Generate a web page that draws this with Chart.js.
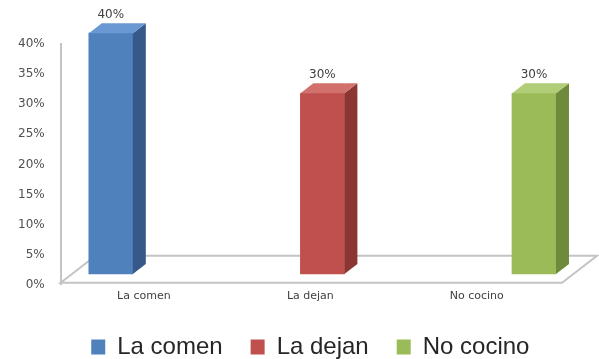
<!DOCTYPE html>
<html>
<head>
<meta charset="utf-8">
<script src="https://cdn.jsdelivr.net/npm/chart.js@4/dist/chart.umd.min.js"></script>
<style>
  html, body { margin: 0; padding: 0; background: #fff; }
</style>
</head>
<body>
<canvas id="chart" width="599" height="359"></canvas>
<script>
// answers: what happens with the food
const categories = ['La comen', 'La dejan', 'No cocino'];
const shares = [0.40, 0.30, 0.30];
const tickStep = 0.05;
const tickMax = 0.40;

// face colours per bar: front, right side, top
const frontColors = ['#4f81bd', '#c0504d', '#9bbb59'];
const sideColors = ['#36598a', '#8c3633', '#6e8a3a'];
const topColors = ['#6a98d2', '#d2706d', '#b2cd78'];

// depth of the fake 3d extrusion
const depthX = 13, depthY = -10;

const pct = v => Math.round(v * 100) + '%';

// floor of the 3d plot, drawn under the bars
const floorPlugin = {
  id: 'floor',
  beforeDatasetsDraw(chart) {
    const { ctx, chartArea: a } = chart;
    const fy = a.bottom - 2, by = fy - 27;
    ctx.save();
    ctx.strokeStyle = '#c4c4c4';
    ctx.lineWidth = 2;
    ctx.beginPath();
    ctx.moveTo(a.left, fy);
    ctx.lineTo(a.right + 2, fy);
    ctx.lineTo(a.right + 37, by);
    ctx.lineTo(a.left + 35, by);
    ctx.closePath();
    ctx.stroke();
    ctx.restore();
  }
};

// side + top faces and the value on each bar
const boxPlugin = {
  id: 'box',
  afterDatasetsDraw(chart) {
    const ctx = chart.ctx;
    chart.data.datasets.forEach((ds, i) => {
      chart.getDatasetMeta(i).data.forEach((bar, j) => {
        const { x, y, base, width } = bar.getProps(['x', 'y', 'base', 'width'], true);
        const l = x - width / 2, r = x + width / 2;
        ctx.save();
        ctx.fillStyle = sideColors[i];
        ctx.beginPath();
        ctx.moveTo(r, y);
        ctx.lineTo(r + depthX, y + depthY);
        ctx.lineTo(r + depthX, base + depthY);
        ctx.lineTo(r, base);
        ctx.closePath();
        ctx.fill();
        ctx.fillStyle = topColors[i];
        ctx.beginPath();
        ctx.moveTo(l, y);
        ctx.lineTo(l + depthX, y + depthY);
        ctx.lineTo(r + depthX, y + depthY);
        ctx.lineTo(r, y);
        ctx.closePath();
        ctx.fill();
        ctx.fillStyle = '#404040';
        ctx.font = '12px "DejaVu Sans"';
        ctx.textAlign = 'center';
        ctx.textBaseline = 'middle';
        ctx.fillText(pct(ds.data[j].y), x, y - 18);
        ctx.restore();
      });
    });
  }
};

const datasets = categories.map((name, i) => ({
  label: name,
  data: [{ x: i, y: shares[i] }],
  backgroundColor: frontColors[i],
  borderWidth: 0,
  xAxisID: 'xb',
  yAxisID: 'yb',
  grouped: false,
  barThickness: 44,
  clip: false
}));

new Chart(document.getElementById('chart'), {
  type: 'bar',
  data: { labels: categories, datasets: datasets },
  options: {
    responsive: false,
    animation: false,
    devicePixelRatio: 1,
    layout: { padding: { top: 44, left: 2, right: 39, bottom: 0 } },
    plugins: {
      tooltip: { enabled: false },
      legend: {
        position: 'bottom',
        fullSize: false,
        maxHeight: 52,
        labels: {
          boxWidth: 14,
          boxHeight: 15,
          padding: 28,
          color: '#262626',
          font: { family: '"Liberation Sans"', size: 24 }
        }
      }
    },
    scales: {
      x: {
        type: 'category',
        grid: { display: false, drawTicks: false },
        border: { display: false },
        ticks: { padding: 4.5, color: '#404040', font: { family: '"DejaVu Sans"', size: 11 } }
      },
      y: {
        type: 'linear',
        position: 'left',
        min: 0,
        max: tickMax,
        grid: { display: false, drawTicks: false },
        border: { display: true, color: '#c4c4c4', width: 2 },
        ticks: {
          stepSize: tickStep,
          padding: 16,
          color: '#505050',
          font: { family: '"DejaVu Sans"', size: 12 },
          callback: v => pct(v)
        }
      },
      // bar placement axes (not drawn)
      xb: { type: 'linear', display: false, offset: false, min: -0.237, max: 2.123 },
      yb: { type: 'linear', display: false, offset: false, min: -0.018, max: 0.382 }
    }
  },
  plugins: [floorPlugin, boxPlugin]
});
</script>
</body>
</html>
